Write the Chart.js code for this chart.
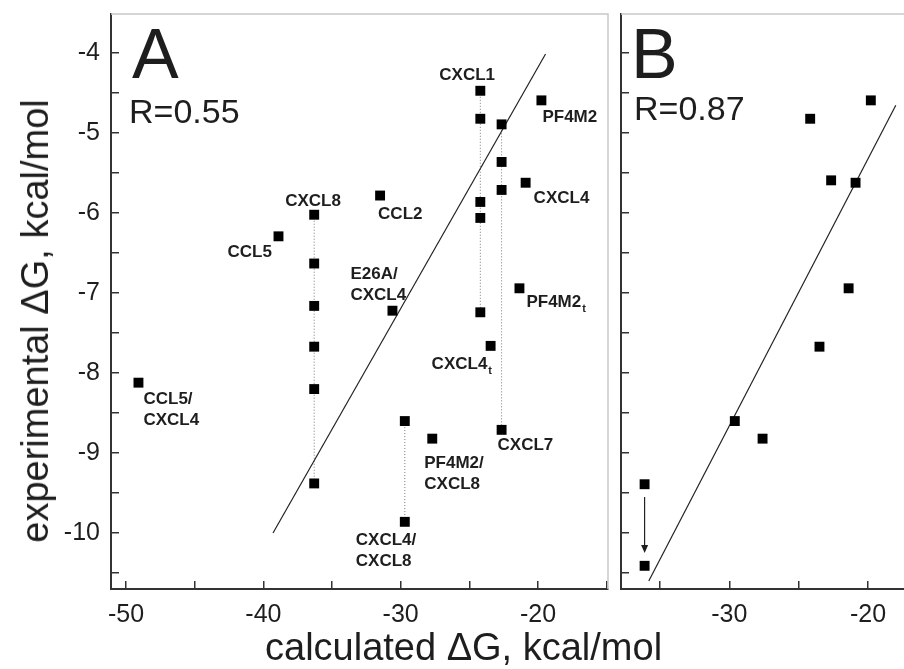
<!DOCTYPE html>
<html>
<head>
<meta charset="utf-8">
<script src="https://cdn.jsdelivr.net/npm/chart.js@4.4.0/dist/chart.umd.min.js"></script>
<style>
  body { margin: 0; background: #fff; width: 904px; height: 669px; overflow: hidden; position: relative;
         font-family: "Liberation Sans", Arial, sans-serif; }
  canvas { position: absolute; top: 0; }
  .axtitle { position: absolute; font-size: 38px; color: #1e1e1e; white-space: nowrap; line-height: 38px; }
</style>
</head>
<body>
<canvas id="chartA" width="904" height="669" style="left:0"></canvas>
<canvas id="chartB" width="293" height="669" style="left:611px"></canvas>
<div class="axtitle" style="left:265px; top:628px;">calculated &Delta;G, kcal/mol</div>
<div class="axtitle" style="left:35px; top:321px; transform: translate(-50%,-50%) rotate(-90deg);">experimental &Delta;G, kcal/mol</div>
<script>
// panel A, calculated vs experimental dG (kcal/mol)
const calcA = [-36.3, -36.3, -36.3, -36.3, -36.3, -36.3, -38.9, -31.5, -30.6, -49.1, -29.7, -29.7,
               -24.2, -24.2, -24.2, -24.2, -24.2, -22.65, -22.65, -22.65, -22.65, -19.75, -20.9, -21.35, -23.45, -27.7];
const expA  = [-6.02, -6.63, -7.16, -7.67, -8.2, -9.38, -6.29, -5.78, -7.22, -8.12, -8.6, -9.86,
               -4.47, -4.82, -5.86, -6.06, -7.24, -4.89, -5.36, -5.71, -8.71, -4.59, -5.62, -6.94, -7.66, -8.82];
const namesA = ['CXCL8', '', '', '', '', '', 'CCL5', 'CCL2', 'E26A/\nCXCL4', 'CCL5/\nCXCL4', '', 'CXCL4/\nCXCL8',
                'CXCL1', '', '', '', '', '', '', '', 'CXCL7', 'PF4M2', 'CXCL4', 'PF4M2_t', 'CXCL4_t', 'PF4M2/\nCXCL8'];
// dotted columns (same complex, several models)
const colX      = [-36.3, -29.7, -24.2, -22.65];
const colTop    = [-6.02, -8.6, -4.47, -4.89];
const colBottom = [-9.38, -9.86, -7.24, -8.71];
const fitAx = [-39.3, -19.45];
const fitAy = [-10.0, -4.01];

// panel B
const calcB = [-24.17, -19.8, -22.66, -20.9, -21.4, -23.5, -29.6, -27.6, -36.1, -36.1];
const expB  = [-4.82, -4.59, -5.59, -5.62, -6.94, -7.67, -8.6, -8.82, -9.39, -10.41];
const fitBx = [-35.8, -18.0];
const fitBy = [-10.6, -4.65];
const arrowB = [-36.1, -9.55, -10.25];

// ticks
const xTicksA = [-50, -45, -40, -35, -30, -25, -20, -15];
const xTicksB = [-35, -30, -25, -20];
const yTicks = [-10.5, -10, -9.5, -9, -8.5, -8, -7.5, -7, -6.5, -6, -5.5, -5, -4.5, -4];
const xLabels = [-50, -40, -30, -20];
const yLabels = [-10, -9, -8, -7, -6, -5, -4];

// label placement (px from point: dx, dy of first baseline)
const labelOffA = {0: [-29, -9], 6: [-51, 21], 7: [-2, 23], 8: [-42, -32], 9: [5, 21], 11: [-49, 23],
  12: [-41, -11], 20: [-4, 20], 21: [1, 22], 22: [8, 20], 23: [7, 19], 24: [-59, 23], 25: [-8, 29]};

const FONT = '"Liberation Sans", Arial, sans-serif';
const INK = '#1e1e1e';

const pts = (xs, ys) => xs.map((v, i) => ({x: v, y: ys[i]}));

const annotate = {
  id: 'annotate',
  beforeDatasetsDraw(chart, args, o) {
    const {ctx, chartArea: a} = chart;
    ctx.save();
    ctx.strokeStyle = '#c8c8c8';
    ctx.lineWidth = 1.5;
    ctx.beginPath();
    ctx.moveTo(a.left, a.top);
    ctx.lineTo(a.right, a.top);
    if (o.rightEdge) ctx.lineTo(a.right, a.bottom);
    ctx.stroke();
    ctx.restore();
  },
  afterDatasetsDraw(chart, args, o) {
    const {ctx, chartArea: a, scales: {x, y}} = chart;
    ctx.save();
    ctx.fillStyle = INK;
    ctx.textBaseline = 'alphabetic';
    ctx.font = '70px ' + FONT;
    ctx.fillText(o.letter, a.left + o.letterX, a.top + 64);
    ctx.font = '34px ' + FONT;
    ctx.fillText(o.r, a.left + o.rX, a.top + o.rY);

    if (o.names) {
      o.names.forEach((name, i) => {
        if (!name) return;
        const off = o.offsets[i];
        const px = x.getPixelForValue(o.xs[i]) + off[0];
        let py = y.getPixelForValue(o.ys[i]) + off[1];
        name.split('\n').forEach(line => {
          const parts = line.split('_');
          ctx.font = 'bold 17px ' + FONT;
          ctx.fillText(parts[0], px, py);
          if (parts[1]) {
            const w = ctx.measureText(parts[0]).width;
            ctx.font = 'bold 11px ' + FONT;
            ctx.fillText(parts[1], px + w + 1, py + 5);
          }
          py += 21;
        });
      });
    }

    if (o.arrow) {
      const ax = x.getPixelForValue(o.arrow[0]);
      const y1 = y.getPixelForValue(o.arrow[1]);
      const y2 = y.getPixelForValue(o.arrow[2]);
      ctx.strokeStyle = '#222';
      ctx.lineWidth = 1.2;
      ctx.beginPath();
      ctx.moveTo(ax, y1);
      ctx.lineTo(ax, y2 - 7);
      ctx.stroke();
      ctx.beginPath();
      ctx.moveTo(ax - 3.5, y2 - 8);
      ctx.lineTo(ax + 3.5, y2 - 8);
      ctx.lineTo(ax, y2);
      ctx.closePath();
      ctx.fill();
    }
    ctx.restore();
  }
};

function axes(xMin, xMax, xTicks, yWidth, showY) {
  const tickFont = {family: FONT, size: 25};
  return {
    x: {
      type: 'linear', min: xMin, max: xMax,
      afterBuildTicks: s => { s.ticks = xTicks.map(v => ({value: v})); },
      afterFit: s => { s.height = 80; s.paddingLeft = 0; s.paddingRight = 0; },
      ticks: {color: INK, font: tickFont, padding: 19, maxRotation: 0,
              callback: v => xLabels.includes(v) ? String(v) : ''},
      grid: {drawOnChartArea: false, tickLength: -8, color: '#333', lineWidth: 1.5},
      border: {color: '#333', width: 2}
    },
    y: {
      type: 'linear', min: -10.7, max: -3.51,
      afterBuildTicks: s => { s.ticks = yTicks.map(v => ({value: v})); },
      afterFit: s => { s.width = yWidth; s.paddingTop = 0; s.paddingBottom = 0; },
      ticks: {display: showY, color: INK, font: tickFont, padding: 19,
              callback: v => yLabels.includes(v) ? String(v) : ''},
      grid: {drawOnChartArea: false, tickLength: -8, color: '#333', lineWidth: 1.5},
      border: {color: '#333', width: 2}
    }
  };
}

function pointSet(data) {
  return {data, pointStyle: 'rect', pointRadius: 7, pointHoverRadius: 7,
          backgroundColor: '#000', borderColor: '#000', borderWidth: 0, showLine: false};
}
function lineSet(data, dash, color, width) {
  return {data, showLine: true, pointRadius: 0, borderColor: color, borderWidth: width,
          borderDash: dash, fill: false, tension: 0};
}

const dotted = colX.map((cx, i) => lineSet([{x: cx, y: colTop[i]}, {x: cx, y: colBottom[i]}], [1, 2], '#777', 1));

new Chart(document.getElementById('chartA'), {
  type: 'scatter',
  data: {
    datasets: [pointSet(pts(calcA, expA)), lineSet(pts(fitAx, fitAy), [], '#222', 1.2)].concat(dotted)
  },
  options: {
    responsive: false, animation: false,
    layout: {autoPadding: false, padding: {left: 0, top: 14, right: 296, bottom: 0}},
    scales: axes(-51.1, -14.9, xTicksA, 111, true),
    plugins: {
      legend: {display: false}, tooltip: {enabled: false},
      annotate: {letter: 'A', letterX: 21, r: 'R=0.55', rX: 18, rY: 109, rightEdge: true,
                 names: namesA, offsets: labelOffA, xs: calcA, ys: expA}
    }
  },
  plugins: [annotate]
});

new Chart(document.getElementById('chartB'), {
  type: 'scatter',
  data: {
    datasets: [pointSet(pts(calcB, expB)), lineSet(pts(fitBx, fitBy), [], '#222', 1.2)]
  },
  options: {
    responsive: false, animation: false,
    layout: {autoPadding: false, padding: {left: 0, top: 14, right: 0, bottom: 0}},
    scales: axes(-37.8, -17.41, xTicksB, 10, false),
    plugins: {
      legend: {display: false}, tooltip: {enabled: false},
      annotate: {letter: 'B', letterX: 10, r: 'R=0.87', rX: 13, rY: 106, rightEdge: false, arrow: arrowB}
    }
  },
  plugins: [annotate]
});
</script>
</body>
</html>
